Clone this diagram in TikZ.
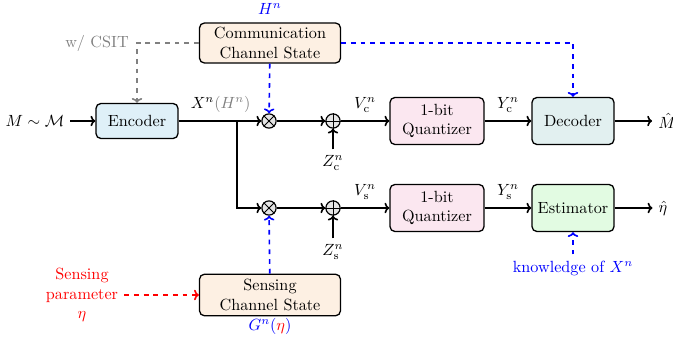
\documentclass[tikz,border=0pt]{standalone}
\usetikzlibrary{arrows.meta}
\definecolor{encfill}{HTML}{DFF0F8}
\definecolor{statefill}{HTML}{FDF0E3}
\definecolor{quantfill}{HTML}{FBE7F0}
\definecolor{decfill}{HTML}{E2F0F0}
\definecolor{estfill}{HTML}{E2FBE2}
\begin{document}
\begin{tikzpicture}[x=0.6173pt,y=-0.6173pt,
  line width=1pt,
  >={To[length=3pt,width=6.5pt]},
  blk/.style={draw, line width=0.8pt, rounded corners=3pt, align=center, inner sep=2pt},
  sumnode/.style={circle, draw, line width=0.7pt, fill=gray!20, minimum size=8.8pt, inner sep=0pt},
  sig/.style={->},
  csi/.style={->, dashed, blue},
  lbl/.style={above=1.5pt}]
\useasboundingbox (0,0) rectangle (673,347);

% blocks
\node[blk, fill=encfill, minimum width=50.6pt, minimum height=21.6pt] (enc) at (137,121) {Encoder};
\node[blk, fill=statefill, minimum width=87pt, minimum height=24.7pt] (ccs) at (270,43) {Communication\\Channel State};
\node[blk, fill=quantfill, minimum width=58pt, minimum height=29pt] (qc) at (437,121) {1-bit\\Quantizer};
\node[blk, fill=decfill, minimum width=50.6pt, minimum height=29pt] (dec) at (573,121) {Decoder};
\node[blk, fill=quantfill, minimum width=58pt, minimum height=29pt] (qs) at (437,208) {1-bit\\Quantizer};
\node[blk, fill=estfill, minimum width=50.6pt, minimum height=29pt] (est) at (573,208) {Estimator};
\node[blk, fill=statefill, minimum width=87pt, minimum height=25.6pt] (scs) at (270,295) {Sensing\\Channel State};

% multipliers and adders
\node[sumnode] (mc) at (269,121) {};
\node[sumnode] (ac) at (333,121) {};
\node[sumnode] (ms) at (269,208) {};
\node[sumnode] (as) at (333,208) {};
\foreach \m in {mc,ms} {
  \draw[line width=0.6pt] (\m.north west) -- (\m.south east);
  \draw[line width=0.6pt] (\m.north east) -- (\m.south west);
}
\foreach \a in {ac,as} {
  \draw[line width=0.6pt] (\a.north) -- (\a.south);
  \draw[line width=0.6pt] (\a.west) -- (\a.east);
}

% terminals and labels
\node (src) at (35,121) {$M\sim\mathcal{M}$};
\node (mhat) at (667,121) {$\hat{M}$};
\node (etahat) at (663,208) {$\hat{\eta}$};
\node[blue] (hn) at (270,9) {$H^n$};
\node[blue] (gn) at (270,326) {$G^n(\textcolor{red}{\eta})$};
\node[gray] (csit) at (97,43) {w/ CSIT};
\node[red, align=center] (sp) at (82,295) {Sensing\\parameter\\$\eta$};
\node[blue] (kx) at (573,268) {knowledge of $X^n$};
\node (zc) at (333,163) {$Z_{\mathrm{c}}^n$};
\node (zs) at (333,252) {$Z_{\mathrm{s}}^n$};
\coordinate (br) at (237,121);

% signal paths
\draw[sig] (src) -- (enc);
\draw (enc) -- node[lbl, pos=0.72] {$X^n\textcolor{gray}{(H^n)}$} (br);
\draw[sig] (br) -- (mc);
\draw[sig] (mc) -- (ac);
\draw[sig] (ac) -- node[lbl] {$V_{\mathrm{c}}^n$} (qc);
\draw[sig] (qc) -- node[lbl] {$Y_{\mathrm{c}}^n$} (dec);
\draw[sig] (dec) -- (mhat);
\draw[sig] (br) |- (ms);
\draw[sig] (ms) -- (as);
\draw[sig] (as) -- node[lbl] {$V_{\mathrm{s}}^n$} (qs);
\draw[sig] (qs) -- node[lbl] {$Y_{\mathrm{s}}^n$} (est);
\draw[sig] (est) -- (etahat);
\draw[sig] (zc) -- (ac);
\draw[sig] (zs) -- (as);

% channel state information
\draw[->, dashed, gray] (ccs.west) -| (enc.north);
\draw[csi] (ccs) -- (mc);
\draw[csi] (ccs.east) -| (dec.north);
\draw[csi] (scs) -- (ms);
\draw[csi] (kx) -- (est);
\draw[->, dashed, red] (sp) -- (scs);
\end{tikzpicture}
\end{document}
